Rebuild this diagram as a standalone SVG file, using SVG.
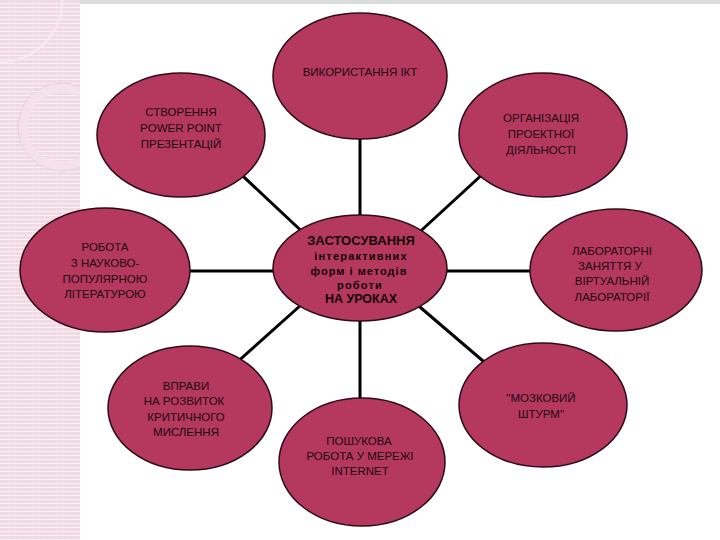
<svg xmlns="http://www.w3.org/2000/svg" width="720" height="540" viewBox="0 0 720 540">
<defs>
<pattern id="stripe" width="6" height="4" patternUnits="userSpaceOnUse">
<rect width="6" height="4" fill="#f1d9e4"/>
<rect y="3" width="6" height="1" fill="#fbf1f6"/>
<rect x="2" y="1" width="1" height="1" fill="#f9ecf2"/>
</pattern>
<clipPath id="stripClip"><rect x="0" y="0" width="80" height="540"/></clipPath>
<style>
.node ellipse{fill:#B5385F;stroke:#2e0a18;stroke-width:1.5}
.lbl{font-family:"Liberation Sans",Arial,sans-serif;font-size:11.5px;fill:#1c0910;text-anchor:middle;dominant-baseline:central}
.ctr{font-family:"Liberation Sans",Arial,sans-serif;font-weight:bold;fill:#140508;text-anchor:middle;dominant-baseline:central}
.conn line{stroke:#000;stroke-width:3}
</style>
</defs>
<rect width="720" height="540" fill="#ffffff"/>
<g id="background">
<rect x="0" y="0" width="80" height="540" fill="url(#stripe)"/>
<rect x="80" y="0" width="640" height="4" fill="#dcdcdc"/>
<g clip-path="url(#stripClip)" fill="none">
<circle cx="0" cy="0" r="62" stroke="#f8ebf1" stroke-width="2"/>
<circle cx="62" cy="127" r="39" stroke="#f3e2ea" stroke-width="9"/>
<circle cx="62" cy="127" r="44" stroke="#e8d0dc" stroke-width="1"/>
</g>
</g>
<g id="connectors" class="conn">
<line x1="360" y1="100" x2="360" y2="240"/>
<line x1="360" y1="300" x2="360" y2="430"/>
<line x1="150" y1="271" x2="300" y2="271"/>
<line x1="420" y1="271" x2="580" y2="271"/>
<line x1="215" y1="150" x2="310" y2="239"/>
<line x1="510" y1="149" x2="400" y2="250"/>
<line x1="215" y1="382" x2="320" y2="288"/>
<line x1="510" y1="384" x2="400" y2="290"/>
</g>
<g id="node-top" class="node">
<ellipse cx="360" cy="76" rx="87" ry="63"/>
<text class="lbl" x="360" y="72">ВИКОРИСТАННЯ ІКТ</text>
</g>
<g id="node-topleft" class="node">
<ellipse cx="181" cy="135" rx="84" ry="62"/>
<text class="lbl" x="181" y="112">СТВОРЕННЯ</text>
<text class="lbl" x="181" y="128">POWER POINT</text>
<text class="lbl" x="181" y="144">ПРЕЗЕНТАЦІЙ</text>
</g>
<g id="node-topright" class="node">
<ellipse cx="543" cy="135" rx="84" ry="62"/>
<text class="lbl" x="541" y="118">ОРГАНІЗАЦІЯ</text>
<text class="lbl" x="541" y="134">ПРОЕКТНОЇ</text>
<text class="lbl" x="541" y="150">ДІЯЛЬНОСТІ</text>
</g>
<g id="node-left" class="node">
<ellipse cx="105" cy="270" rx="85" ry="62"/>
<text class="lbl" x="105" y="247">РОБОТА</text>
<text class="lbl" x="105" y="263">З НАУКОВО-</text>
<text class="lbl" x="105" y="279">ПОПУЛЯРНОЮ</text>
<text class="lbl" x="105" y="294">ЛІТЕРАТУРОЮ</text>
</g>
<g id="node-right" class="node">
<ellipse cx="616" cy="270" rx="86" ry="61"/>
<text class="lbl" x="612" y="251">ЛАБОРАТОРНІ</text>
<text class="lbl" x="610" y="266">ЗАНЯТТЯ У</text>
<text class="lbl" x="612" y="281">ВІРТУАЛЬНІЙ</text>
<text class="lbl" x="612" y="297">ЛАБОРАТОРІЇ</text>
</g>
<g id="node-center" class="node">
<ellipse cx="360" cy="268" rx="87" ry="53"/>
<text class="ctr" x="361" y="240" font-size="13px">ЗАСТОСУВАННЯ</text>
<text class="ctr" x="361" y="256" font-size="11px" letter-spacing="1.2">інтерактивних</text>
<text class="ctr" x="359" y="271" font-size="11px" letter-spacing="1">форм і методів</text>
<text class="ctr" x="360" y="285" font-size="11px" letter-spacing="1.2">роботи</text>
<text class="ctr" x="361" y="299" font-size="12.5px">НА УРОКАХ</text>
</g>
<g id="node-bottomleft" class="node">
<ellipse cx="190" cy="408" rx="82" ry="62"/>
<text class="lbl" x="186" y="386">ВПРАВИ</text>
<text class="lbl" x="184" y="401">НА РОЗВИТОК</text>
<text class="lbl" x="186" y="417">КРИТИЧНОГО</text>
<text class="lbl" x="186" y="432">МИСЛЕННЯ</text>
</g>
<g id="node-bottom" class="node">
<ellipse cx="362" cy="462" rx="83" ry="64"/>
<text class="lbl" x="359" y="441">ПОШУКОВА</text>
<text class="lbl" x="360" y="456">РОБОТА У МЕРЕЖІ</text>
<text class="lbl" x="360" y="471">INTERNET</text>
</g>
<g id="node-bottomright" class="node">
<ellipse cx="543" cy="405" rx="84" ry="62"/>
<text class="lbl" x="541" y="398">"МОЗКОВИЙ</text>
<text class="lbl" x="541" y="414">ШТУРМ"</text>
</g>
</svg>
